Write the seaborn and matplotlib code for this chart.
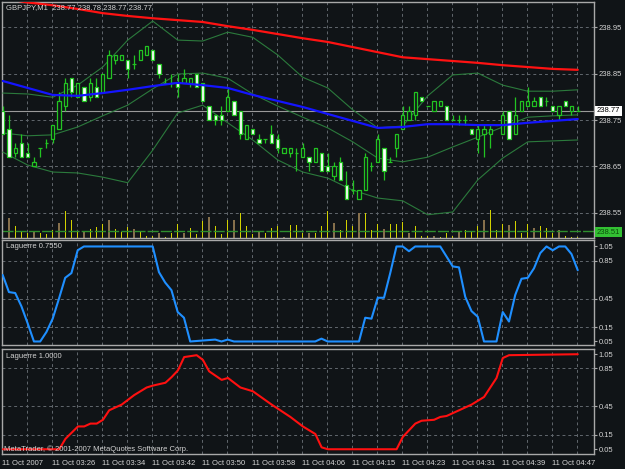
import numpy as np
import matplotlib
matplotlib.use("Agg")
import matplotlib.pyplot as plt
import seaborn as sns

# GBPJPY M1 candles, one per minute, bar 0 = 11 Oct 2007 03:18
opens = [238.77, 238.73, 238.68, 238.70, 238.68, 238.65, 238.69, 238.70, 238.71, 238.73,
         238.78, 238.84, 238.80, 238.82, 238.80, 238.82, 238.81, 238.84, 238.88, 238.88,
         238.88, 238.87, 238.88, 238.89, 238.90, 238.87, 238.83, 238.83, 238.83, 238.83,
         238.83, 238.85, 238.83, 238.78, 238.76, 238.76, 238.77, 238.79, 238.77, 238.71,
         238.73, 238.71, 238.71, 238.72, 238.71, 238.68, 238.68, 238.68, 238.67, 238.67,
         238.66, 238.68, 238.65, 238.63, 238.66, 238.61, 238.60, 238.58, 238.60, 238.65,
         238.66, 238.69, 238.66, 238.69, 238.73, 238.75, 238.76, 238.80, 238.78, 238.77,
         238.78, 238.78, 238.75, 238.75, 238.75, 238.73, 238.71, 238.72, 238.72, 238.74,
         238.72, 238.77, 238.72, 238.77, 238.78, 238.78, 238.80, 238.79, 238.78, 238.76,
         238.79, 238.77, 238.77]
highs = [238.78, 238.76, 238.70, 238.72, 238.70, 238.67, 238.69, 238.71, 238.74, 238.81,
         238.84, 238.84, 238.83, 238.82, 238.84, 238.84, 238.85, 238.90, 238.89, 238.89,
         238.88, 238.89, 238.90, 238.91, 238.90, 238.87, 238.84, 238.85, 238.85, 238.86,
         238.84, 238.85, 238.83, 238.78, 238.76, 238.78, 238.82, 238.79, 238.77, 238.74,
         238.73, 238.72, 238.71, 238.74, 238.72, 238.69, 238.69, 238.69, 238.70, 238.67,
         238.69, 238.68, 238.68, 238.66, 238.67, 238.64, 238.62, 238.60, 238.68, 238.66,
         238.72, 238.69, 238.67, 238.72, 238.78, 238.78, 238.81, 238.80, 238.78, 238.79,
         238.79, 238.78, 238.76, 238.76, 238.76, 238.73, 238.74, 238.74, 238.74, 238.74,
         238.77, 238.77, 238.80, 238.79, 238.82, 238.80, 238.80, 238.80, 238.78, 238.78,
         238.79, 238.78, 238.78]
lows = [238.72, 238.67, 238.67, 238.67, 238.67, 238.65, 238.67, 238.69, 238.70, 238.73,
        238.77, 238.80, 238.80, 238.79, 238.79, 238.80, 238.81, 238.84, 238.87, 238.88,
        238.84, 238.86, 238.88, 238.89, 238.88, 238.84, 238.83, 238.82, 238.80, 238.83,
        238.82, 238.82, 238.79, 238.75, 238.74, 238.74, 238.77, 238.76, 238.71, 238.71,
        238.72, 238.70, 238.70, 238.70, 238.68, 238.68, 238.67, 238.64, 238.67, 238.64,
        238.66, 238.64, 238.64, 238.62, 238.62, 238.58, 238.59, 238.58, 238.60, 238.64,
        238.66, 238.62, 238.66, 238.67, 238.73, 238.75, 238.75, 238.79, 238.78, 238.77,
        238.78, 238.75, 238.75, 238.74, 238.74, 238.72, 238.68, 238.67, 238.69, 238.74,
        238.72, 238.71, 238.72, 238.77, 238.78, 238.78, 238.78, 238.78, 238.77, 238.75,
        238.78, 238.76, 238.77]
closes = [238.72, 238.67, 238.69, 238.67, 238.67, 238.66, 238.69, 238.70, 238.74, 238.79,
          238.83, 238.81, 238.83, 238.79, 238.83, 238.80, 238.85, 238.89, 238.89, 238.89,
          238.86, 238.87, 238.90, 238.91, 238.88, 238.85, 238.83, 238.83, 238.82, 238.84,
          238.84, 238.82, 238.79, 238.75, 238.75, 238.75, 238.80, 238.76, 238.72, 238.74,
          238.72, 238.70, 238.71, 238.70, 238.69, 238.69, 238.69, 238.68, 238.69, 238.66,
          238.69, 238.64, 238.64, 238.65, 238.62, 238.58, 238.60, 238.60, 238.67, 238.65,
          238.71, 238.64, 238.66, 238.72, 238.76, 238.77, 238.81, 238.79, 238.78, 238.79,
          238.79, 238.75, 238.75, 238.75, 238.75, 238.72, 238.73, 238.73, 238.73, 238.74,
          238.76, 238.71, 238.76, 238.79, 238.79, 238.79, 238.78, 238.79, 238.77, 238.78,
          238.78, 238.78, 238.77]
volumes = [8, 20, 12, 6, 5, 7, 5, 4, 8, 15, 27, 18, 6, 6, 9, 11, 14, 18, 9, 6,
           11, 9, 6, 2, 2, 5, 1, 5, 14, 5, 10, 4, 17, 21, 12, 4, 18, 18, 25, 12,
           4, 7, 5, 10, 12, 1, 13, 13, 5, 5, 5, 12, 27, 15, 8, 18, 12, 25, 25, 8,
           14, 9, 14, 14, 16, 5, 12, 2, 2, 2, 1, 5, 2, 6, 8, 7, 12, 18, 28, 8,
           14, 13, 17, 5, 14, 10, 12, 10, 5, 8, 2, 1, 1]

# moving averages and Bollinger bands, read every 4 bars
ma_bars = list(range(0, 93, 4))
ma_slow = [239.012, 239.003, 238.997, 238.989, 238.980, 238.974, 238.969, 238.965,
           238.961, 238.952, 238.944, 238.935, 238.926, 238.918, 238.907, 238.896,
           238.885, 238.881, 238.877, 238.873, 238.868, 238.864, 238.860, 238.858]
ma_fast = [238.834, 238.819, 238.804, 238.802, 238.808, 238.815, 238.823, 238.830,
           238.825, 238.819, 238.804, 238.791, 238.778, 238.763, 238.748, 238.733,
           238.735, 238.741, 238.741, 238.739, 238.739, 238.744, 238.748, 238.752]
bb_upper = [238.808, 238.806, 238.799, 238.825, 238.864, 238.922, 238.963, 238.922,
            238.920, 238.939, 238.928, 238.890, 238.842, 238.819, 238.772, 238.733,
            238.737, 238.802, 238.847, 238.851, 238.825, 238.812, 238.812, 238.815]
bb_mid = [238.722, 238.716, 238.718, 238.735, 238.759, 238.782, 238.817, 238.849,
          238.851, 238.840, 238.806, 238.780, 238.756, 238.733, 238.703, 238.668,
          238.660, 238.670, 238.692, 238.713, 238.735, 238.756, 238.759, 238.761]
bb_lower = [238.681, 238.653, 238.638, 238.636, 238.627, 238.615, 238.685, 238.765,
            238.782, 238.744, 238.707, 238.664, 238.638, 238.625, 238.599, 238.582,
            238.576, 238.546, 238.552, 238.621, 238.668, 238.703, 238.705, 238.707]

# Laguerre 0.7550
lag1_bars = [0, 1, 2, 3, 4, 5, 6, 7, 8, 9, 10, 11, 12, 13, 24, 25, 26, 27, 28, 29, 30,
             34, 35, 36, 37, 50, 51, 52, 57, 58, 59, 60, 61, 62, 63, 64, 65, 66, 70,
             72, 73, 74, 75, 76, 77, 79, 80, 81, 82, 83, 84, 85, 86, 87, 88, 89, 90, 91, 92]
lag1_vals = [0.70, 0.52, 0.51, 0.37, 0.19, 0.0, 0.0, 0.10, 0.24, 0.45, 0.67, 0.72, 0.96, 1.0,
             1.0, 0.73, 0.62, 0.54, 0.31, 0.25, 0.0,
             0.02, 0.0, 0.02, 0.0, 0.0, 0.03, 0.0, 0.0, 0.25, 0.24, 0.46, 0.46, 0.72, 1.0,
             1.0, 0.95, 1.0, 1.0,
             0.79, 0.78, 0.47, 0.32, 0.26, 0.0, 0.0, 0.31, 0.21, 0.49, 0.66, 0.67, 0.77,
             0.93, 1.0, 0.96, 1.0, 1.0, 0.92, 0.75]
# Laguerre 1.0000
lag2_bars = [0, 9, 10, 12, 13, 14, 15, 16, 17, 19, 20, 21, 23, 24, 26, 27, 28, 29, 31, 32,
             33, 35, 36, 38, 40, 43, 46, 48, 50, 51, 52, 63, 64, 66, 67, 69, 70, 71, 73, 75,
             77, 78, 79, 80, 81, 92]
lag2_vals = [0, 0, 0.11, 0.24, 0.24, 0.27, 0.27, 0.31, 0.41, 0.47, 0.52, 0.57, 0.65, 0.67,
             0.70, 0.76, 0.83, 0.97, 0.99, 0.94, 0.82, 0.73, 0.75, 0.65, 0.61, 0.47, 0.34,
             0.24, 0.16, 0.02, 0, 0, 0.13, 0.27, 0.30, 0.31, 0.34, 0.35, 0.41, 0.47, 0.55,
             0.65, 0.75, 0.96, 0.99, 1.0]
lag_levels = [0.15, 0.45, 0.85]

price_ticks = [238.55, 238.65, 238.75, 238.85, 238.95]
lag_ticks = [0.0, 0.15, 0.45, 0.85, 1.0]
lag_ticklabels = ["0.05", "0.15", "0.45", "0.85", "1.05"]
time_labels = ["11 Oct 2007", "11 Oct 03:26", "11 Oct 03:34", "11 Oct 03:42",
               "11 Oct 03:50", "11 Oct 03:58", "11 Oct 04:06", "11 Oct 04:15",
               "11 Oct 04:23", "11 Oct 04:31", "11 Oct 04:39", "11 Oct 04:47"]

BG = "#101417"
GRID = "#61676d"
GREEN = "#22c422"
FRAME = "#a9a9a9"
TXT = "#d4d4d4"

sns.set_style("dark", {"axes.facecolor": BG, "figure.facecolor": BG,
                       "axes.edgecolor": FRAME, "grid.color": GRID})
plt.rcParams["font.family"] = ["Liberation Sans", "DejaVu Sans"]
plt.rcParams["patch.force_edgecolor"] = False

W, H = 625, 469
fig = plt.figure(figsize=(W / 100, H / 100), dpi=100)


def panel(top, bottom):
    a = fig.add_axes([2 / W, 1 - bottom / H, 592 / W, (bottom - top) / H])
    a.set_facecolor(BG)
    a.set_xlim(-0.11, 94.6)
    for s in a.spines.values():
        s.set_color(FRAME)
        s.set_linewidth(1)
    a.yaxis.tick_right()
    a.tick_params(axis="y", length=2, pad=1.5, labelsize=5.5, colors=FRAME, labelcolor=TXT)
    grid_x = np.arange(0, 95, 4) - 0.16
    a.set_xticks(grid_x)
    for gx in grid_x[1:]:
        a.axvline(gx, color=GRID, lw=0.7, ls=(0, (3, 3)), zorder=1)
    return a


ax = panel(2, 238)
ax2 = panel(240, 345)
ax3 = panel(349, 454)

# ---- main price panel
ylo, yhi = 238.496, 239.004
ax.set_ylim(ylo, yhi)
ax.set_yticks(price_ticks)
ax.set_yticklabels([f"{p:.2f}" for p in price_ticks])
for p in price_ticks:
    ax.axhline(p, color=GRID, lw=0.7, ls=(0, (3, 3)), zorder=1)

bars = np.arange(len(opens))
o, h, l, c = (np.array(v) for v in (opens, highs, lows, closes))

vol = np.array(volumes) / 465.0
vcol = ["#86704c" if i % 4 == 1 else "#d2d200" for i in bars]
vwid = [0.32 if i % 4 == 1 else 0.2 for i in bars]
ax.bar(bars, vol, bottom=ylo, width=vwid, color=vcol, edgecolor="none",
       linewidth=0, zorder=2)
ax.axhline(238.51, color="#2e8f2e", lw=1, dashes=(8, 1.5), zorder=2)
ax.axhline(238.77, color="#9a9a9a", lw=0.8, zorder=2.5)

for band in (bb_upper, bb_mid, bb_lower):
    sns.lineplot(x=ma_bars, y=band, ax=ax, color="#2b7a3c", linewidth=0.8, zorder=3)

ax.vlines(bars, l, h, color=GREEN, lw=0.9, zorder=4)
up, dn, flat = c > o, c < o, c == o
ax.bar(bars[up], (c - o)[up], bottom=o[up], width=0.5, color=BG,
       edgecolor=GREEN, linewidth=0.9, zorder=5)
ax.bar(bars[dn], (o - c)[dn], bottom=c[dn], width=0.5, color="white",
       edgecolor=GREEN, linewidth=0.9, zorder=5)
ax.hlines(c[flat], bars[flat] - 0.3, bars[flat] + 0.3, color=GREEN, lw=0.9, zorder=5)

sns.lineplot(x=ma_bars, y=ma_fast, ax=ax, color="#1414ff", linewidth=1.6, zorder=6)
sns.lineplot(x=ma_bars, y=ma_slow, ax=ax, color="#ff1212", linewidth=1.6, zorder=6)
ax.set_ylim(ylo, yhi)

# ---- Laguerre panels
for a, xs, ys, col, name, vtop, vbot, ytxt in (
        (ax2, lag1_bars, lag1_vals, "#1f8fff", "Laguerre 0.7550", 1.068, -0.037, 247),
        (ax3, lag2_bars, lag2_vals, "#ff1010", "Laguerre 1.0000", 1.055, -0.050, 357)):
    a.set_ylim(vbot, vtop)
    for lv in lag_levels:
        a.axhline(lv, color=GRID, lw=0.7, ls=(0, (3, 3)), zorder=1)
    sns.lineplot(x=xs, y=ys, ax=a, color=col, linewidth=1.5, zorder=4)
    a.set_yticks(lag_ticks)
    a.set_yticklabels(lag_ticklabels)
    a.set_ylim(vbot, vtop)
    fig.text(6 / W, 1 - ytxt / H, name, fontsize=5.5, color=TXT, va="center")

for a in (ax, ax2, ax3):
    a.set_xlim(-0.11, 94.6)
    a.set_xlabel("")
    a.set_ylabel("")

ax.tick_params(axis="x", length=0, labelbottom=False)
ax2.tick_params(axis="x", length=0, labelbottom=False)
xt = np.arange(0, 95, 4) - 0.16
ax3.set_xticks(xt)
ax3.set_xticklabels([time_labels[k // 2] if k % 2 == 0 and k // 2 < len(time_labels) else ""
                     for k in range(len(xt))], ha="left")
ax3.tick_params(axis="x", length=3, pad=1, labelsize=5.5, colors=FRAME, labelcolor=TXT)

# ---- texts
fig.text(6 / W, 1 - 8 / H, "GBPJPY,M1  238.77 238.78 238.77 238.77",
         fontsize=5.5, color=TXT, va="center")
fig.text(4 / W, 1 - 449 / H, "MetaTrader, \u00a9 2001-2007 MetaQuotes Software Corp.",
         fontsize=5.5, color=TXT, va="center", zorder=10)
fig.text(597 / W, 1 - 111 / H, "238.77", fontsize=5.5, color="black", va="center",
         bbox=dict(boxstyle="square,pad=0.25", fc="white", ec="none"))
fig.text(597 / W, 1 - 232 / H, "238.51", fontsize=5.5, color="#0b4d0b", va="center",
         bbox=dict(boxstyle="square,pad=0.25", fc="#33c033", ec="none"))

fig.savefig("out.png", dpi=100, facecolor=BG)
